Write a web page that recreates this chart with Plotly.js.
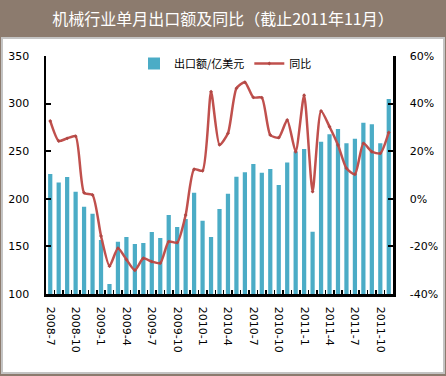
<!DOCTYPE html>
<html>
<head>
<meta charset="utf-8">
<script src="https://cdn.plot.ly/plotly-3.0.1.min.js"></script>
<style>
html,body{margin:0;padding:0;background:#8c7b6e;}
#chart{width:446px;height:376px;}
</style>
</head>
<body>
<div id="chart"></div>
<script>
var months = ["2008-7","2008-8","2008-9","2008-10","2008-11","2008-12",
  "2009-1","2009-2","2009-3","2009-4","2009-5","2009-6","2009-7","2009-8","2009-9","2009-10","2009-11","2009-12",
  "2010-1","2010-2","2010-3","2010-4","2010-5","2010-6","2010-7","2010-8","2010-9","2010-10","2010-11","2010-12",
  "2011-1","2011-2","2011-3","2011-4","2011-5","2011-6","2011-7","2011-8","2011-9","2011-10","2011-11"];
var exportValue = [226,217,223,207.5,191.7,184.4,156.7,110.5,155,160,152.5,153.5,165,158.8,183,170.4,178.8,206.4,
  177,159.9,189.3,205.4,223.2,228,236.5,227.4,231.3,214.5,238,249.5,252.3,165.5,260,267.8,273.3,258.3,263.1,280,278.2,258.3,304.8];
var yoyPct = [32.7,24.3,25.4,26.3,2.5,1.6,-15.6,-28.3,-20.8,-25.5,-30,-25,-26.4,-27,-18,-18.4,-6.8,12.4,
  11.8,45,22.7,27.5,46.4,49,42.6,42.5,26.8,25.7,33.1,19.8,43.5,3.0,36.9,30.3,22.6,12.8,10.3,23.3,19.8,19.1,27.9];
var shownLabels = ["2008-7","2008-10","2009-1","2009-4","2009-7","2009-10","2010-1","2010-4","2010-7","2010-10","2011-1","2011-4","2011-7","2011-10"];
var leftTicks = [100,150,200,250,300,350];
var rightTicks = [-40,-20,0,20,40,60];

var tickText = months.map(function(m){ return shownLabels.indexOf(m) >= 0 ? m : ""; });
var rightText = rightTicks.map(function(v){ return v + "%"; });

var W = 446, H = 376, L = 46, R = 53, T = 56, B = 82;
var pw = W - L - R, ph = H - T - B;
function px(x){ return (x - L) / pw; }
function py(y){ return (H - B - y) / ph; }

var traces = [
  {type:"bar", name:"出口额/亿美元", x:months, y:exportValue, marker:{color:"#4bacc6"}, yaxis:"y"},
  {type:"scatter", mode:"lines+markers", name:"同比", x:months, y:yoyPct, yaxis:"y2",
   line:{color:"#c0504d", width:2.5, shape:"spline", smoothing:0.6},
   marker:{symbol:"diamond", size:3, color:"#b04845"}}
];

var axFont = {family:"DejaVu Sans, sans-serif", size:11, color:"#000"};
var layout = {
  width:W, height:H,
  margin:{l:L, r:R, t:T, b:B, pad:0},
  paper_bgcolor:"#8c7b6e",
  plot_bgcolor:"rgba(0,0,0,0)",
  title:{text:"机械行业单月出口额及同比（截止2011年11月）",
    font:{family:"Noto Sans CJK SC, sans-serif", size:16, color:"#ffffff"},
    x:0.5, xanchor:"center", xref:"container", y:1-19/376, yref:"container", yanchor:"middle"},
  showlegend:true,
  legend:{orientation:"h", x:px(134), xanchor:"left", y:py(49), yanchor:"top",
    bgcolor:"rgba(0,0,0,0)", font:{family:"Noto Sans CJK SC, sans-serif", size:11, color:"#000"},
    itemwidth:30, tracegroupgap:0},
  bargap:0.5,
  xaxis:{type:"category", tickmode:"array", tickvals:months, ticktext:tickText, tickangle:90,
    tickson:"boundaries", ticks:"inside", ticklen:4, tickwidth:1.5, tickcolor:"#000",
    showline:true, linecolor:"#000", linewidth:2.5, showgrid:false, zeroline:false,
    tickfont:axFont, ticklabelstandoff:8, range:[-0.5, 40.5]},
  yaxis:{range:[100,350], tickmode:"array", tickvals:leftTicks, ticks:"inside", ticklen:5, tickwidth:2, tickcolor:"#000",
    showline:true, linecolor:"#000", linewidth:2.5, showgrid:false, zeroline:false,
    tickfont:axFont, ticklabelstandoff:12},
  yaxis2:{range:[-40,60], tickmode:"array", tickvals:rightTicks, ticktext:rightText, overlaying:"y", side:"right",
    ticks:"inside", ticklen:5, tickwidth:2, tickcolor:"#000",
    showline:true, linecolor:"#000", linewidth:2.5, showgrid:false, zeroline:false,
    tickfont:axFont, ticklabelstandoff:12},
  shapes:[
    {type:"rect", layer:"below", xref:"paper", yref:"paper",
     x0:px(2), x1:px(444), y0:py(373), y1:py(38),
     fillcolor:"#ffffff", line:{color:"#c4c4c4", width:2}}
  ]
};

Plotly.newPlot("chart", traces, layout, {displayModeBar:false, staticPlot:true});
</script>
</body>
</html>
